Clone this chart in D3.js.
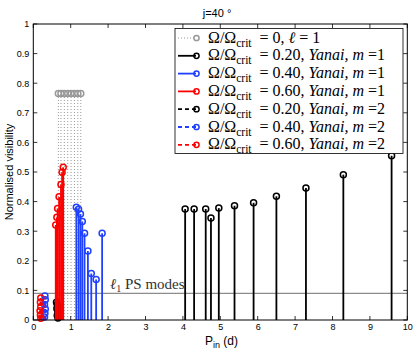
<!DOCTYPE html>
<html><head><meta charset="utf-8">
<script src="https://cdn.jsdelivr.net/npm/d3@7"></script>
<style>body{margin:0;background:#fff}svg{display:block}</style>
</head><body>
<svg id="c" width="415" height="351"></svg>
<script>
// ---- data ----
const xTicks = [0,1,2,3,4,5,6,7,8,9,10];
const yTicks = [0,0.1,0.2,0.3,0.4,0.5,0.6,0.7,0.8,0.9,1];
const psLevel = 0.09;
const titleText = "j=40 °";

const s0_x = [0.67,0.74,0.83,0.92,1.01,1.10,1.19,1.27];
const s0_y = [0.765,0.765,0.765,0.765,0.765,0.765,0.765,0.765];

const b1_x = [4.06,4.30,4.61,4.75,4.96,5.38,5.89,6.50,7.29,8.29,9.58];
const b1_y = [0.375,0.375,0.375,0.345,0.378,0.386,0.396,0.418,0.446,0.491,0.555];

const u1_x = [1.15,1.21,1.26,1.31,1.37,1.46,1.55,1.68,1.84];
const u1_y = [0.381,0.374,0.358,0.333,0.293,0.233,0.157,0.137,0.293];

const r1_x = [0.60,0.63,0.65,0.69,0.74,0.77,0.80];
const r1_y = [0.321,0.347,0.377,0.416,0.458,0.499,0.516];

const b2_x = [0.62,0.64,0.66,0.63,0.65,0.67,0.64,0.66];
const b2_y = [0.060,0.053,0.046,0.039,0.031,0.023,0.015,0.007];

const u2_x = [0.31,0.32,0.30,0.32,0.31,0.30];
const u2_y = [0.081,0.068,0.052,0.037,0.023,0.010];

const r2_x = [0.20,0.19,0.20,0.18,0.19,0.20];
const r2_y = [0.074,0.060,0.045,0.031,0.017,0.006];

const legendLabels = [
  ["0", "ℓ", "1", true],
  ["0.20", "Yanai", "1"],
  ["0.40", "Yanai", "1"],
  ["0.60", "Yanai", "1"],
  ["0.20", "Yanai", "2"],
  ["0.40", "Yanai", "2"],
  ["0.60", "Yanai", "2"]
];

// ---- drawing ----
const svg = d3.select("#c");
const x = d3.scaleLinear().domain([0,10]).range([33.3,407.3]);
const y = d3.scaleLinear().domain([0,1]).range([320,24]);

const series = [
  {xs:s0_x, ys:s0_y, color:"#999", dash:"1,2", w:1, circ:"#999"},
  {xs:b2_x, ys:b2_y, color:"#000", dash:"4,3", w:1.8, circ:"#000"},
  {xs:u2_x, ys:u2_y, color:"#2040ff", dash:"4,3", w:1.8, circ:"#2040ff"},
  {xs:r2_x, ys:r2_y, color:"#ff0000", dash:"4,3", w:1.8, circ:"#ff0000"},
  {xs:b1_x, ys:b1_y, color:"#000", dash:null, w:1.8, circ:"#000"},
  {xs:u1_x, ys:u1_y, color:"#2040ff", dash:null, w:1.8, circ:"#2040ff"},
  {xs:r1_x, ys:r1_y, color:"#ff0000", dash:null, w:1.8, circ:"#ff0000"}
];

// ps line
svg.append("line").attr("x1",x(0)).attr("x2",x(10)).attr("y1",y(psLevel)).attr("y2",y(psLevel))
  .attr("stroke","#8c8c8c").attr("stroke-width",1.3);

series.forEach(s=>{
  const g = svg.append("g");
  const pts = s.xs.map((v,i)=>[v,s.ys[i]]);
  g.selectAll("line").data(pts).join("line")
    .attr("x1",d=>x(d[0])).attr("x2",d=>x(d[0]))
    .attr("y1",y(0)).attr("y2",d=>y(d[1]))
    .attr("stroke",s.color).attr("stroke-width",s.w)
    .attr("stroke-dasharray",s.dash);
  g.selectAll("circle").data(pts).join("circle")
    .attr("cx",d=>x(d[0])).attr("cy",d=>y(d[1])).attr("r",3)
    .attr("fill","none").attr("stroke",s.circ).attr("stroke-width",1.5);
});

// label for PS modes
const psT = svg.append("text").attr("x",110).attr("y",y(psLevel)-4)
  .attr("font-family","Liberation Serif").attr("font-size",15).attr("fill","#333");
psT.append("tspan").attr("font-style","italic").text("ℓ");
psT.append("tspan").attr("font-size",10).attr("dy",3).text("1");
psT.append("tspan").attr("dy",-3).text(" PS modes");

// axes box
svg.append("rect").attr("x",x(0)).attr("y",y(1)).attr("width",x(10)-x(0)).attr("height",y(0)-y(1))
  .attr("fill","none").attr("stroke","#000").attr("stroke-width",1);

const tl = 4;
const ax = svg.append("g").attr("stroke","#000").attr("stroke-width",0.8);
xTicks.forEach(t=>{
  ax.append("line").attr("x1",x(t)).attr("x2",x(t)).attr("y1",y(0)).attr("y2",y(0)-tl);
  ax.append("line").attr("x1",x(t)).attr("x2",x(t)).attr("y1",y(1)).attr("y2",y(1)+tl);
});
yTicks.forEach(t=>{
  ax.append("line").attr("x1",x(0)).attr("x2",x(0)+tl).attr("y1",y(t)).attr("y2",y(t));
  ax.append("line").attr("x1",x(10)).attr("x2",x(10)-tl).attr("y1",y(t)).attr("y2",y(t));
});
const xAxis = d3.axisBottom(x).tickValues(xTicks).tickSize(0).tickPadding(4).tickFormat(d3.format("d"));
svg.append("g").attr("transform",`translate(0,${y(0)})`).call(xAxis)
  .call(g=>g.select(".domain").remove())
  .selectAll("text").attr("font-family","Liberation Sans").attr("font-size",9).attr("fill","#000");
const yAxis = d3.axisLeft(y).tickValues(yTicks).tickSize(0).tickPadding(4).tickFormat(d=>d3.format("~g")(d));
svg.append("g").attr("transform",`translate(${x(0)},0)`).call(yAxis)
  .call(g=>g.select(".domain").remove())
  .selectAll("text").attr("font-family","Liberation Sans").attr("font-size",9).attr("fill","#000");

// title
svg.append("text").attr("x",217).attr("y",17).attr("text-anchor","middle")
  .attr("font-family","Liberation Sans").attr("font-size",11).text(titleText);
// y label
svg.append("text").attr("transform",`translate(13,${(y(0)+y(1))/2}) rotate(-90)`).attr("text-anchor","middle")
  .attr("font-family","Liberation Sans").attr("font-size",11).text("Normalised visibility");
// x label
const xl = svg.append("text").attr("x",205).attr("y",345)
  .attr("font-family","Liberation Sans").attr("font-size",12);
xl.append("tspan").text("P");
xl.append("tspan").attr("font-size",9).attr("dy",3).text("in");
xl.append("tspan").attr("dy",-3).text(" (d)");

// legend
const lg = svg.append("g");
lg.append("rect").attr("x",175).attr("y",28.5).attr("width",228).attr("height",125)
  .attr("fill","#fff").attr("stroke","#000").attr("stroke-width",0.8);
const legSeries = [series[0],series[4],series[5],series[6],series[1],series[2],series[3]];
legendLabels.forEach((lab,i)=>{
  const cy = 38 + i*17.8;
  const s = legSeries[i];
  lg.append("line").attr("x1",178).attr("x2",196).attr("y1",cy).attr("y2",cy)
    .attr("stroke",s.color).attr("stroke-width",s.w).attr("stroke-dasharray",s.dash);
  lg.append("circle").attr("cx",196.5).attr("cy",cy).attr("r",2.6)
    .attr("fill","none").attr("stroke",s.circ).attr("stroke-width",1.5);
  const t = lg.append("text").attr("x",208).attr("y",cy+4.5)
    .attr("font-family","Liberation Serif").attr("font-size",16).attr("fill","#000");
  t.append("tspan").text("Ω/Ω");
  t.append("tspan").attr("font-size",11.5).attr("dy",4).text("crit");
  if (lab[3]) {
    t.append("tspan").attr("dy",-4).text("\u2002= " + lab[0] + ", ");
    t.append("tspan").attr("font-style","italic").text(lab[1]);
    t.append("tspan").text(" = " + lab[2]);
  } else {
    t.append("tspan").attr("dy",-4).text("\u2002= " + lab[0] + ", ");
    t.append("tspan").attr("font-style","italic").text(lab[1] + ", m");
    t.append("tspan").text(" =" + lab[2]);
  }
});
</script>
</body></html>
